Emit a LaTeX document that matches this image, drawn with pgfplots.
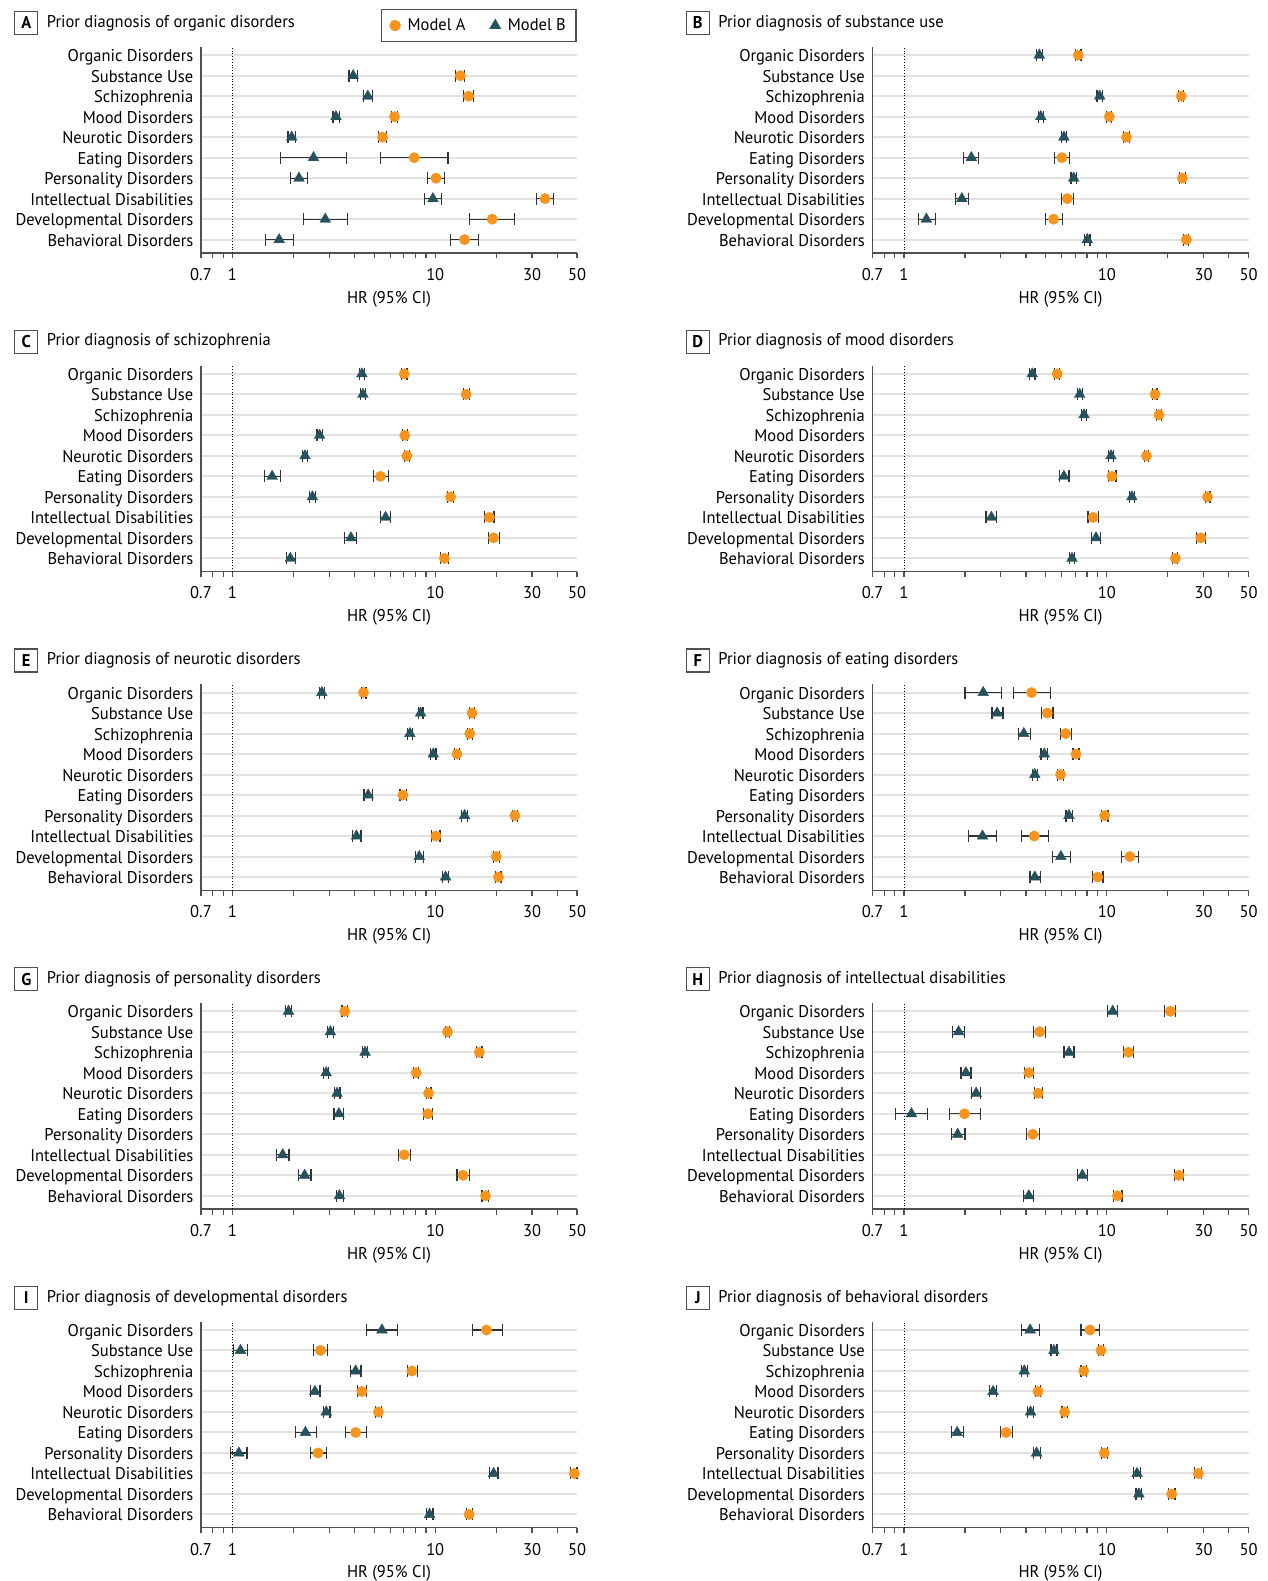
\documentclass[border=0pt]{standalone}
\usepackage{fontspec}
\setmainfont{PT Sans}[FakeStretch=0.97]
\usepackage{pgfplots}
\usepackage{pgfplotstable}
\pgfplotsset{compat=1.18}
\definecolor{orA}{RGB}{247,148,30}
\definecolor{tlB}{RGB}{38,82,94}
\definecolor{gridc}{RGB}{226,226,226}
\definecolor{axc}{RGB}{80,80,80}
\definecolor{errc}{RGB}{50,50,50}
\newcommand\fs{\fontsize{17}{20}\selectfont}

% columns: y (10=Organic ... 1=Behavioral), Model A HR, lo, hi, Model B HR, lo, hi
\pgfplotstableread{
y a alo ahi b blo bhi
9 13.3 12.6 13.95 3.94 3.76 4.15
8 14.6 13.8 15.4 4.65 4.41 4.91
7 6.30 6.11 6.52 3.24 3.13 3.36
6 5.50 5.27 5.75 1.96 1.88 2.05
5 7.88 5.37 11.55 2.51 1.73 3.65
4 10.08 9.17 11.1 2.13 1.94 2.35
3 34.8 31.7 38.4 9.74 8.89 10.7
2 19.1 14.8 24.6 2.87 2.25 3.69
1 13.95 11.9 16.4 1.70 1.46 2.00
}\tA
\pgfplotstableread{
y a alo ahi b blo bhi
10 7.24 7.03 7.47 4.65 4.49 4.81
8 23.3 22.6 24.0 9.23 8.96 9.52
7 10.3 10.0 10.6 4.73 4.59 4.88
6 12.5 12.1 12.9 6.15 5.97 6.34
5 6.01 5.51 6.56 2.15 1.96 2.34
4 23.6 22.9 24.4 6.87 6.66 7.08
3 6.39 5.97 6.87 1.93 1.80 2.09
2 5.47 4.98 6.04 1.29 1.18 1.43
1 24.7 23.9 25.4 8.02 7.78 8.27
}\tB
\pgfplotstableread{
y a alo ahi b blo bhi
10 7.03 6.82 7.25 4.35 4.22 4.48
9 14.2 13.8 14.7 4.40 4.27 4.53
7 7.08 6.87 7.29 2.69 2.61 2.77
6 7.25 7.03 7.47 2.28 2.21 2.35
5 5.37 4.96 5.89 1.57 1.44 1.72
4 11.9 11.5 12.3 2.48 2.40 2.57
3 18.5 17.5 19.5 5.69 5.37 6.02
2 19.4 18.25 20.8 3.84 3.58 4.09
1 11.1 10.6 11.6 1.93 1.85 2.04
}\tC
\pgfplotstableread{
y a alo ahi b blo bhi
10 5.70 5.55 5.87 4.29 4.16 4.43
9 17.3 16.8 17.7 7.36 7.16 7.56
8 18.1 17.6 18.6 7.73 7.50 7.96
6 15.7 15.3 16.1 10.5 10.2 10.8
5 10.6 10.2 11.1 6.15 5.83 6.51
4 31.4 30.6 32.3 13.3 12.9 13.7
3 8.56 8.09 9.10 2.70 2.54 2.87
2 29.1 27.6 30.7 8.85 8.40 9.34
1 21.8 21.1 22.4 6.74 6.54 6.95
}\tD
\pgfplotstableread{
y a alo ahi b blo bhi
10 4.43 4.31 4.56 2.76 2.68 2.84
9 15.2 14.8 15.6 8.47 8.25 8.70
8 14.8 14.4 15.2 7.50 7.28 7.74
7 12.8 12.4 13.2 9.78 9.49 10.08
5 6.93 6.70 7.19 4.67 4.45 4.91
4 24.7 24.0 25.5 13.95 13.5 14.4
3 10.08 9.62 10.55 4.09 3.91 4.30
2 20.0 19.3 20.8 8.34 7.99 8.73
1 20.5 19.8 21.1 11.25 10.9 11.6
}\tE
\pgfplotstableread{
y a alo ahi b blo bhi
10 4.26 3.47 5.27 2.46 2.00 3.04
9 5.09 4.77 5.43 2.88 2.72 3.08
8 6.27 5.90 6.69 3.90 3.67 4.20
7 7.05 6.81 7.30 4.92 4.74 5.11
6 5.92 5.74 6.11 4.42 4.29 4.57
4 9.77 9.41 10.15 6.51 6.29 6.76
3 4.39 3.79 5.15 2.44 2.09 2.85
2 13.0 11.8 14.3 5.94 5.41 6.61
1 9.03 8.49 9.59 4.42 4.18 4.72
}\tF
\pgfplotstableread{
y a alo ahi b blo bhi
10 3.58 3.47 3.69 1.89 1.83 1.95
9 11.5 11.2 11.8 3.04 2.95 3.14
8 16.5 16.0 17.0 4.51 4.38 4.65
7 8.06 7.84 8.28 2.90 2.81 2.99
6 9.27 9.03 9.53 3.28 3.18 3.39
5 9.20 8.75 9.73 3.35 3.17 3.54
3 7.03 6.59 7.53 1.77 1.65 1.90
2 13.7 12.8 14.7 2.27 2.12 2.44
1 17.7 17.0 18.3 3.37 3.26 3.54
}\tG
\pgfplotstableread{
y a alo ahi b blo bhi
10 20.6 19.3 21.8 10.7 10.07 11.3
9 4.67 4.36 5.00 1.86 1.73 1.99
8 12.8 12.1 13.5 6.51 6.15 6.89
7 4.13 3.92 4.37 2.02 1.91 2.14
6 4.59 4.39 4.83 2.27 2.16 2.39
5 1.99 1.67 2.39 1.09 0.906 1.31
4 4.32 4.01 4.68 1.84 1.71 2.00
2 22.7 21.5 23.9 7.58 7.16 8.02
1 11.3 10.8 11.9 4.13 3.90 4.37
}\tH
\pgfplotstableread{
y a alo ahi b blo bhi
10 17.9 15.2 21.5 5.46 4.58 6.54
9 2.72 2.52 2.93 1.095 1.01 1.19
8 7.67 7.28 8.15 4.05 3.82 4.30
7 4.35 4.14 4.58 2.55 2.43 2.70
6 5.25 5.08 5.43 2.90 2.80 3.03
5 4.05 3.62 4.57 2.29 2.05 2.60
4 2.64 2.43 2.91 1.075 0.98 1.18
3 48.5 46.4 50.0 19.4 18.5 20.4
1 14.7 14.3 15.2 9.38 9.06 9.75
}\tI
\pgfplotstableread{
y a alo ahi b blo bhi
10 8.27 7.47 9.20 4.19 3.79 4.68
9 9.37 9.08 9.67 5.49 5.31 5.68
8 7.70 7.47 7.96 3.92 3.79 4.05
7 4.58 4.44 4.72 2.75 2.65 2.86
6 6.20 6.01 6.40 4.21 4.07 4.36
5 3.19 2.99 3.42 1.83 1.71 1.97
4 9.73 9.43 10.05 4.51 4.34 4.70
3 28.3 27.2 29.4 14.1 13.6 14.7
2 20.9 20.2 21.7 14.4 13.95 14.9
}\tJ

\newcommand\hrpanel[5]{%
 \begin{axis}[xmode=log,
  scale only axis, width=376pt, height=206pt,
  at={(#1pt,#2pt)}, anchor=south west,
  xmin=0.7, xmax=50, ymin=0.35, ymax=10.4,
  clip=false,
  axis x line*=bottom, axis y line*=left,
  axis line style={axc, line width=1.3pt},
  xtick={0.7,1,10,30,50}, xticklabels={0.7,1,10,30,50},
  minor xtick={0.8,0.9,2,3,4,5,6,7,8,9,20,40},
  tick align=outside, major tick length=5.5pt, minor tick length=5.5pt,
  xtick style={axc, line width=1.2pt},
  minor tick style={gray!70, line width=1.2pt},
  ytick={1,...,10},
  yticklabels={Behavioral Disorders, Developmental Disorders, Intellectual Disabilities, Personality Disorders, Eating Disorders, Neurotic Disorders, Mood Disorders, Schizophrenia, Substance Use, Organic Disorders},
  ytick style={draw=none},
  ymajorgrids, major grid style={gridc, line width=2pt},
  xticklabel style={font=\fs, inner sep=0pt, anchor=north, yshift=-9.5pt},
  yticklabel style={font=\fs, inner sep=0pt, anchor=base east, xshift=-2pt, yshift=-6.5pt},
  xlabel={HR (95\% CI)},
  xlabel style={font=\fs, at={(axis description cs:0.5,0)}, anchor=center, yshift=-46pt}]
  \addplot[black, dotted, line width=0.8pt, forget plot] coordinates {(1,0.35) (1,10.4)};
  \addplot[only marks, mark=none, forget plot, error bars/.cd, x dir=both, x explicit, error mark=none, error bar style={errc, line width=1.2pt}] table[x=b, y=y, x error minus expr=\thisrow{b}-\thisrow{blo}, x error plus expr=\thisrow{bhi}-\thisrow{b}] {#5};
  \addplot[only marks, mark=none, forget plot, error bars/.cd, x dir=both, x explicit, error mark=none, error bar style={errc, line width=1.2pt}] table[x=a, y=y, x error minus expr=\thisrow{a}-\thisrow{alo}, x error plus expr=\thisrow{ahi}-\thisrow{a}] {#5};
  \addplot[only marks, forget plot, mark=|, mark size=6pt, mark options={errc, line width=1.2pt}] table[x=blo, y=y] {#5};
  \addplot[only marks, forget plot, mark=|, mark size=6pt, mark options={errc, line width=1.2pt}] table[x=bhi, y=y] {#5};
  \addplot[only marks, forget plot, mark=|, mark size=6pt, mark options={errc, line width=1.2pt}] table[x=alo, y=y] {#5};
  \addplot[only marks, forget plot, mark=|, mark size=6pt, mark options={errc, line width=1.2pt}] table[x=ahi, y=y] {#5};
  \addplot[only marks, forget plot, mark=triangle*, mark size=6.2pt, color=tlB] table[x=b, y=y] {#5};
  \addplot[only marks, forget plot, mark=*, mark size=5.2pt, color=orA] table[x=a, y=y] {#5};
 \end{axis}
 \node[draw=axc, line width=1.3pt, minimum size=23pt, inner sep=0pt, font=\fs\bfseries] at ({#1pt-174.7pt},{#2pt+230pt}) {#3};
 \node[anchor=west, inner sep=0pt, font=\fs] at ({#1pt-154.3pt},{#2pt+230pt}) {#4};
}

\begin{document}
\begin{tikzpicture}
\path[use as bounding box] (0pt,0pt) rectangle (1267pt,1581pt);
\hrpanel{201}{1328}{A}{Prior diagnosis of organic disorders}{\tA}
\begin{axis}[scale only axis, width=376pt, height=206pt, at={(201pt,1328pt)}, anchor=south west, hide axis, xmin=0, xmax=1, ymin=0, ymax=1,
  legend style={at={(1,1)}, anchor=south east, xshift=-0.5pt, yshift=4.5pt, draw=axc, line width=1.3pt, font=\fs, legend columns=2, inner xsep=8pt, inner ysep=7.5pt,
    /tikz/every odd column/.append style={column sep=5pt},
    /tikz/every even column/.append style={column sep=22pt}},
  legend image post style={line width=0.4pt}]
 \addlegendimage{only marks, mark=*, mark size=5.5pt, color=orA}
 \addlegendentry{Model A}
 \addlegendimage{only marks, mark=triangle*, mark size=6.5pt, color=tlB}
 \addlegendentry{Model B}
\end{axis}
\hrpanel{872.5}{1328}{B}{Prior diagnosis of substance use}{\tB}
\hrpanel{201}{1009.3}{C}{Prior diagnosis of schizophrenia}{\tC}
\hrpanel{872.5}{1009.3}{D}{Prior diagnosis of mood disorders}{\tD}
\hrpanel{201}{690.6}{E}{Prior diagnosis of neurotic disorders}{\tE}
\hrpanel{872.5}{690.6}{F}{Prior diagnosis of eating disorders}{\tF}
\hrpanel{201}{371.9}{G}{Prior diagnosis of personality disorders}{\tG}
\hrpanel{872.5}{371.9}{H}{Prior diagnosis of intellectual disabilities}{\tH}
\hrpanel{201}{53.2}{I}{Prior diagnosis of developmental disorders}{\tI}
\hrpanel{872.5}{53.2}{J}{Prior diagnosis of behavioral disorders}{\tJ}
\end{tikzpicture}
\end{document}
